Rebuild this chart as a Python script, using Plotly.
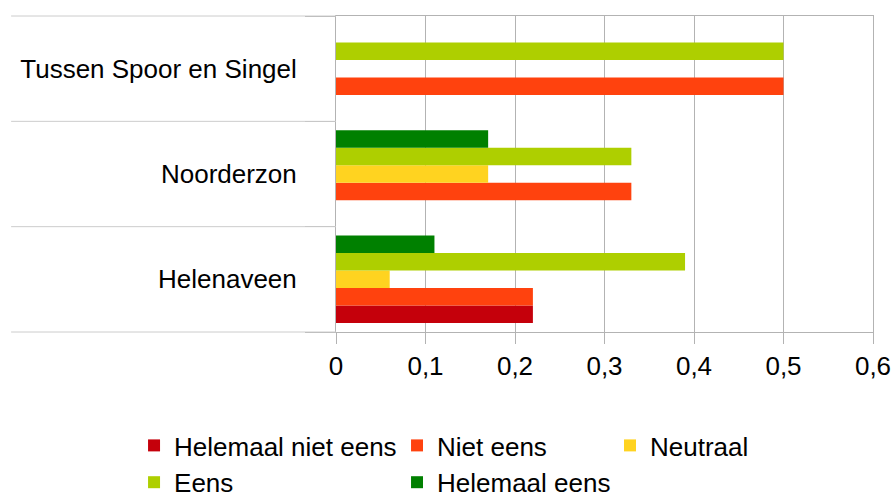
import plotly.graph_objects as go

categories = ["Helenaveen", "Noorderzon", "Tussen Spoor en Singel"]
series_names = ["Helemaal niet eens", "Niet eens", "Neutraal", "Eens", "Helemaal eens"]
helemaal_niet_eens = [0.22, 0.0, 0.0]
niet_eens = [0.22, 0.33, 0.5]
neutraal = [0.06, 0.17, 0.0]
eens = [0.39, 0.33, 0.5]
helemaal_eens = [0.11, 0.17, 0.0]
x_ticks = [0, 0.1, 0.2, 0.3, 0.4, 0.5, 0.6]
x_tick_labels = ["0", "0,1", "0,2", "0,3", "0,4", "0,5", "0,6"]

series_values = [helemaal_niet_eens, niet_eens, neutraal, eens, helemaal_eens]
colors = ["#C5000B", "#FF420E", "#FFD320", "#AECF00", "#008000"]
legend_ids = ["legend", "legend2", "legend3", "legend", "legend2"]

FONT = "Liberation Sans, Arial, sans-serif"
FS = 26
GRID = "#b3b3b3"

fig = go.Figure()
for name, vals, col, lg in zip(series_names, series_values, colors, legend_ids):
    fig.add_trace(go.Bar(
        y=categories, x=vals, name=name, orientation="h",
        marker=dict(color=col, line=dict(width=0)),
        legend=lg, legendgroup=name,
    ))

# separators of the category axis, extending into the left margin
n = len(categories)
shapes = []
for k in range(n + 1):
    shapes.append(dict(type="line", xref="paper", yref="paper",
                       x0=-0.605, x1=0, y0=k / n, y1=k / n,
                       line=dict(color="#cccccc", width=1)))

leg_common = dict(orientation="v", font=dict(family=FONT, size=FS, color="#000"),
                  bgcolor="rgba(0,0,0,0)", tracegroupgap=0,
                  xref="container", yref="container",
                  xanchor="left", yanchor="top", y=0.156,
                  itemclick=False, itemdoubleclick=False)

fig.update_layout(
    width=893, height=500,
    margin=dict(l=336, r=20, t=16, b=168, autoexpand=False),
    paper_bgcolor="white", plot_bgcolor="white",
    barmode="group", bargap=0.17, bargroupgap=0,
    font=dict(family=FONT, size=FS, color="#000"),
    shapes=shapes,
    showlegend=True,
    legend=dict(x=0.1501, **leg_common),
    legend2=dict(x=0.4446, **leg_common),
    legend3=dict(x=0.6831, **leg_common),
    xaxis=dict(range=[0, 0.6], tickvals=x_ticks, ticktext=x_tick_labels,
               showgrid=True, gridcolor=GRID, gridwidth=1,
               showline=True, linecolor=GRID, linewidth=1, mirror=True,
               ticks="outside", ticklen=11, tickcolor=GRID, tickwidth=1,
               ticklabelstandoff=0, zeroline=False, automargin=False,
               tickfont=dict(family=FONT, size=FS, color="#000"), fixedrange=True),
    yaxis=dict(categoryorder="array", categoryarray=categories,
               showgrid=False, showline=True, linecolor=GRID, linewidth=1, mirror=True,
               ticks="outside", tickson="boundaries", ticklen=30, tickcolor=GRID,
               ticklabelstandoff=33, automargin=False,
               tickfont=dict(family=FONT, size=FS, color="#000"), fixedrange=True),
)

fig.write_html("out.html", config={"displayModeBar": False},
               post_script="document.body.style.margin='0';")
